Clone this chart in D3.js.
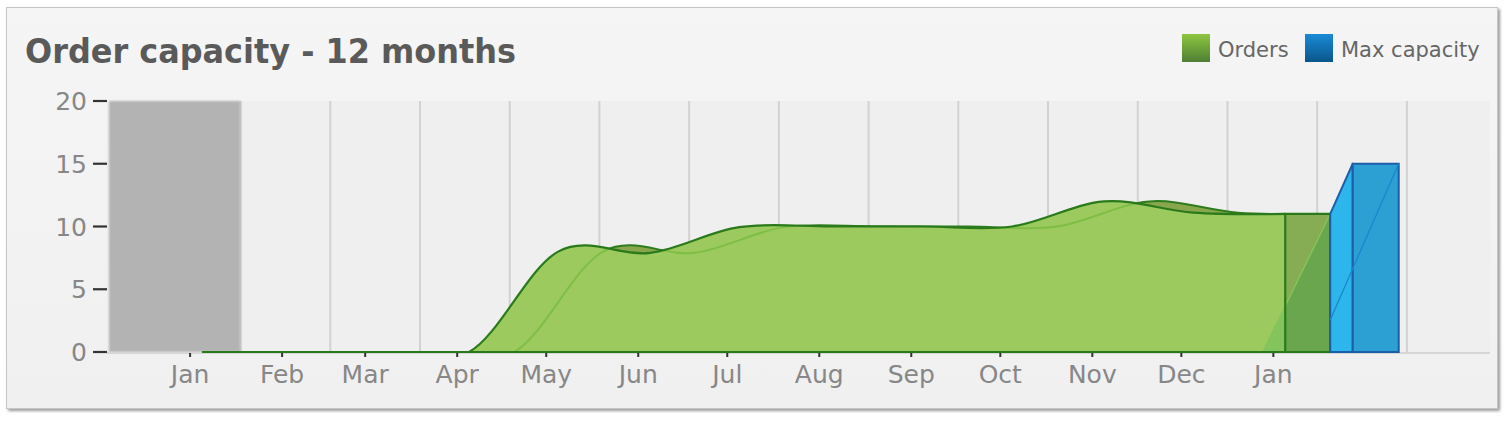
<!DOCTYPE html>
<html><head><meta charset="utf-8">
<script src="https://cdn.jsdelivr.net/npm/d3@7"></script>
<style>
html,body{margin:0;padding:0;background:#fff;}
svg{display:block;font-family:"DejaVu Sans",Verdana,sans-serif;}
</style></head><body>
<svg id="chart" width="1511" height="422"></svg>
<script>
// ---------- data ----------
const chartTitle = "Order capacity - 12 months";
const seriesNames = ["Orders", "Max capacity"];
const orderDates = ["2014-01-05","2014-02-05","2014-03-05","2014-04-05","2014-05-05","2014-06-05","2014-07-05","2014-08-05","2014-09-05","2014-10-05","2014-11-05","2014-12-05","2015-01-05"];
const orderValues = [0, 0, 0, 0, 8.0, 7.9, 9.95, 10.0, 10.0, 10.0, 12, 11.1, 11];
const capacityValues = [15];
const yTicks = [0, 5, 10, 15, 20];
const xTickDates = ["2014-01-01","2014-02-01","2014-03-01","2014-04-01","2014-05-01","2014-06-01","2014-07-01","2014-08-01","2014-09-01","2014-10-01","2014-11-01","2014-12-01","2015-01-01"];
const xTickLabels = ["Jan","Feb","Mar","Apr","May","Jun","Jul","Aug","Sep","Oct","Nov","Dec","Jan"];
const xDomain = ["2013-12-04", "2015-03-15"];
const yDomain = [0, 20];
const gridRange = ["2014-01-18", "2015-02-15"];
const gridCount = 13;

// ---------- layout ----------
const plot = {left: 107, right: 1490, top: 101, bottom: 352};
const depth = 45;
const parse = d3.utcParse("%Y-%m-%d");

const x = d3.scaleUtc().domain(xDomain.map(parse)).range([plot.left, plot.right]);
const y = d3.scaleLinear().domain(yDomain).range([plot.bottom, plot.top]);

const orders = orderDates.map((d, i) => ({date: parse(d), value: orderValues[i]}));
const curve = d3.curveCardinal.tension(0);

const svg = d3.select("#chart");
const defs = svg.append("defs");

// gradients / filters
const gG = defs.append("linearGradient").attr("id","gGreen").attr("x1",0).attr("y1",0).attr("x2",0).attr("y2",1);
gG.append("stop").attr("offset","0%").attr("stop-color","#8dc63f");
gG.append("stop").attr("offset","100%").attr("stop-color","#4f7f35");
const gB = defs.append("linearGradient").attr("id","gBlue").attr("x1",0).attr("y1",0).attr("x2",0).attr("y2",1);
gB.append("stop").attr("offset","0%").attr("stop-color","#1a8ad6");
gB.append("stop").attr("offset","100%").attr("stop-color","#0a568a");
const pbg = defs.append("linearGradient").attr("id","gPanel").attr("x1",0).attr("y1",0).attr("x2",0).attr("y2",1);
pbg.append("stop").attr("offset","0%").attr("stop-color","#f5f5f5");
pbg.append("stop").attr("offset","100%").attr("stop-color","#f0f0f0");
const blur = defs.append("filter").attr("id","soft").attr("x","-20%").attr("y","-20%").attr("width","140%").attr("height","140%");
blur.append("feGaussianBlur").attr("stdDeviation",1.2);
const sh = defs.append("filter").attr("id","shadow").attr("x","-5%").attr("y","-5%").attr("width","110%").attr("height","115%");
sh.append("feGaussianBlur").attr("stdDeviation",1.5);
defs.append("clipPath").attr("id","plotClip").append("rect")
  .attr("x",plot.left).attr("y",plot.top-5).attr("width",plot.right-plot.left).attr("height",plot.bottom-plot.top+6);

// panel
svg.append("rect").attr("x",8).attr("y",9).attr("width",1492).attr("height",402)
  .attr("fill","#9a9a9a").attr("filter","url(#shadow)");
svg.append("rect").attr("x",6.5).attr("y",7.5).attr("width",1491).attr("height",401)
  .attr("fill","url(#gPanel)").attr("stroke","#c6c6c6").attr("stroke-width",1);

// plot background
svg.append("rect").attr("x",plot.left).attr("y",plot.top)
  .attr("width",plot.right-plot.left).attr("height",plot.bottom-plot.top).attr("fill","#efefef");

// grid lines (back wall)
const gx = d3.scaleLinear().domain([0, gridCount]).range(gridRange.map(d => x(parse(d))));
svg.append("g").selectAll("line").data(d3.range(gridCount+1)).join("line")
  .attr("x1", d => gx(d)).attr("x2", d => gx(d))
  .attr("y1", plot.top).attr("y2", plot.bottom)
  .attr("stroke","#d2d2d2").attr("stroke-width",2);

// history (grey) block
svg.append("rect").attr("x",plot.left+2).attr("y",plot.top)
  .attr("width",gx(0)-plot.left-2).attr("height",plot.bottom-plot.top)
  .attr("fill","#b3b3b3").attr("filter","url(#soft)");

// floor line
svg.append("line").attr("x1",plot.left).attr("x2",plot.right)
  .attr("y1",plot.bottom+1).attr("y2",plot.bottom+1).attr("stroke","#d6d6d6").attr("stroke-width",2);

// areas
const frontArea = d3.area().x(d => x(d.date)).y0(y(0)).y1(d => y(d.value)).curve(curve);
const backArea = d3.area().x(d => x(d.date)+depth).y0(y(0)).y1(d => y(d.value)).curve(curve);
const backLine = d3.line().x(d => x(d.date)+depth).y(d => y(d.value)).curve(curve);
const frontLine = d3.line().x(d => x(d.date)).y(d => y(d.value)).curve(curve);

const g = svg.append("g").attr("clip-path","url(#plotClip)");

g.append("path").datum(orders).attr("d", backArea)
  .attr("fill","#88a64b").attr("stroke","#2f7c1f").attr("stroke-width",2);

const last = orders[orders.length-1];
const xe = x(last.date), ye = y(last.value), y0 = y(0);
const diagAt = (xx) => y0 - (y0 - ye) * (xx - (xe - depth/2)) / (depth * 1.5);

// side face of orders (two tones split by diagonal)
g.append("path")
  .attr("d", `M${xe},${ye}L${xe+depth},${ye}L${xe},${diagAt(xe)}Z`)
  .attr("fill","#86ac54");
g.append("path")
  .attr("d", `M${xe},${diagAt(xe)}L${xe+depth},${ye}L${xe+depth},${y0}L${xe},${y0}Z`)
  .attr("fill","#6aa64e");

// front area
defs.append("clipPath").attr("id","frontClip").append("path").datum(orders).attr("d", frontArea);
g.append("path").datum(orders).attr("d", frontArea).attr("fill","#9cca5f");
g.append("path")
  .attr("d", `M${xe-depth/2},${y0}L${xe},${diagAt(xe)}L${xe},${y0}Z`)
  .attr("fill","#84c45c");
g.append("path").datum(orders).attr("d", backLine).attr("clip-path","url(#frontClip)")
  .attr("fill","none").attr("stroke","#7fbe45").attr("stroke-width",2);
g.append("line").attr("x1",xe-depth/2).attr("y1",y0).attr("x2",xe+depth).attr("y2",ye)
  .attr("stroke","#86c45a").attr("stroke-width",1.4);
g.append("path").datum(orders).attr("d", frontLine)
  .attr("fill","none").attr("stroke","#2a7a1b").attr("stroke-width",2.2);
g.append("path")
  .attr("d", `M${x(orders[0].date)},${y0}L${xe+depth},${y0}M${xe},${y0}L${xe},${ye}L${xe+depth},${ye}L${xe+depth},${y0}`)
  .attr("fill","none").attr("stroke","#2a7a1b").attr("stroke-width",2.2);

// capacity bar
const cap = capacityValues[0];
const bx0 = xe + depth, bx1 = bx0 + depth/2, bx2 = bx1 + depth + 1;
svg.append("path")
  .attr("d", `M${bx0},${ye}L${bx1},${y(cap)}L${bx1},${y0}L${bx0},${y0}Z`)
  .attr("fill","#2cb6ec").attr("stroke","#1d5ea8").attr("stroke-width",2).attr("stroke-linejoin","round");
svg.append("rect").attr("x",bx1).attr("y",y(cap)).attr("width",bx2-bx1).attr("height",y0-y(cap))
  .attr("fill","#2c9fd3").attr("stroke","#1d5ea8").attr("stroke-width",2);
svg.append("line").attr("x1",bx0).attr("y1",y(cap*0.17)).attr("x2",bx2).attr("y2",y(cap))
  .attr("stroke","#1b86cf").attr("stroke-width",1.3);

// y axis
const yAxis = svg.append("g");
yAxis.selectAll("line").data(yTicks).join("line")
  .attr("x1",93).attr("x2",plot.left).attr("y1",d=>y(d)).attr("y2",d=>y(d))
  .attr("stroke","#333").attr("stroke-width",2.2);
yAxis.selectAll("text").data(yTicks).join("text")
  .attr("x",87).attr("y",d=>y(d)+9).attr("text-anchor","end")
  .attr("font-size",25).attr("fill","#878787").text(d=>d);

// x axis
const xt = xTickDates.map(parse);
const xAxis = svg.append("g");
xAxis.selectAll("line").data(xt).join("line")
  .attr("x1",d=>x(d)).attr("x2",d=>x(d)).attr("y1",plot.bottom+1).attr("y2",plot.bottom+5)
  .attr("stroke","#333").attr("stroke-width",2);
xAxis.selectAll("text").data(xt).join("text")
  .attr("x",d=>x(d)).attr("y",383).attr("text-anchor","middle")
  .attr("font-size",25).attr("fill","#878787").text((d,i)=>xTickLabels[i]);

// title
svg.append("text").attr("x",25).attr("y",63).attr("font-size",34).attr("font-weight","bold")
  .attr("fill","#5a5a5a").attr("textLength",491).attr("lengthAdjust","spacingAndGlyphs").text(chartTitle);

// legend
const leg = svg.append("g");
const legX = [1182, 1305];
const legFill = ["url(#gGreen)","url(#gBlue)"];
seriesNames.forEach((name,i) => {
  leg.append("rect").attr("x",legX[i]).attr("y",34).attr("width",28).attr("height",28).attr("fill",legFill[i]);
  leg.append("text").attr("x",legX[i]+36).attr("y",57).attr("font-size",21).attr("fill","#666").text(name);
});
</script>
</body></html>
